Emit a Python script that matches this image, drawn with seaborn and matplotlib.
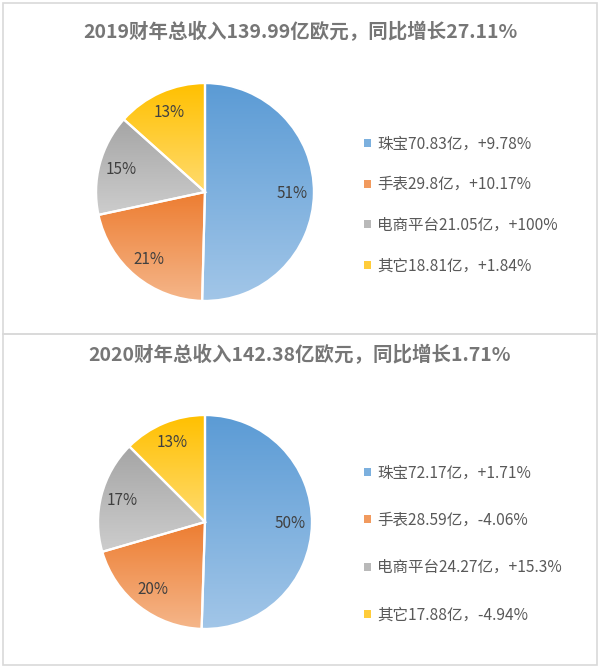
import numpy as np
import matplotlib
matplotlib.use('Agg')
import matplotlib.pyplot as plt
import seaborn as sns
from matplotlib.patches import Rectangle
from matplotlib.colors import LinearSegmentedColormap

# ---- data ----
categories = ['珠宝', '手表', '电商平台', '其它']
rev_2019 = [70.83, 29.8, 21.05, 18.81]
growth_2019 = ['+9.78%', '+10.17%', '+100%', '+1.84%']
pct_2019 = ['51%', '21%', '15%', '13%']
rev_2020 = [72.17, 28.59, 24.27, 17.88]
growth_2020 = ['+1.71%', '-4.06%', '+15.3%', '-4.94%']
pct_2020 = ['50%', '20%', '17%', '13%']
titles = ['2019财年总收入139.99亿欧元，同比增长27.11%',
          '2020财年总收入142.38亿欧元，同比增长1.71%']

dark_cols = ['#5b9bd5', '#ed7d31', '#a5a5a5', '#ffc000']
light_cols = ['#a2c6e8', '#f5b68a', '#cdcdcd', '#ffdb6e']
mid_cols = ['#7cb0de', '#f19a5e', '#b9b9b9', '#ffcc3a']

sns.set_theme(style='white')
plt.rcParams['font.family'] = ['Noto Sans CJK SC', 'DejaVu Sans']
plt.rcParams['hatch.linewidth'] = 1.3

W, H = 600, 668
fig = plt.figure(figsize=(W / 100, H / 100), dpi=100)
fig.patch.set_facecolor('white')

bg = fig.add_axes([0, 0, 1, 1])
bg.set_xlim(0, W)
bg.set_ylim(H, 0)
bg.axis('off')


def fx(px):
    return px / W


def fy(py):
    return 1 - py / H


panels = [
    dict(top=3, bot=334, title_y=32, center=(205, 192), r=110,
         box=(335, 123, 596, 283), leg_y=205, spacing=1.53,
         values=rev_2019, growth=growth_2019, pct=pct_2019, title=titles[0]),
    dict(top=334, bot=665, title_y=355, center=(205, 522), r=108,
         box=(335, 452, 596, 635), leg_y=544, spacing=1.96,
         values=rev_2020, growth=growth_2020, pct=pct_2020, title=titles[1]),
]

for p in panels:
    # hatched background
    bg.add_patch(Rectangle((3, p['top']), 594, p['bot'] - p['top'],
                           facecolor='#e9e9e9', edgecolor='white',
                           hatch='\\' * 16, linewidth=0, zorder=0))
    bg.add_patch(Rectangle((3, p['top']), 594, p['bot'] - p['top'],
                           facecolor='none', edgecolor='#d9d9d9',
                           linewidth=1.2, zorder=1))
    x0, y0, x1, y1 = p['box']
    bg.add_patch(Rectangle((x0, y0), x1 - x0, y1 - y0, facecolor='white',
                           alpha=0.72, edgecolor='none', zorder=2))
    bg.text(300, p['title_y'], p['title'], ha='center', va='center',
            fontsize=14, fontweight='bold', color='#767676', zorder=3)

    cx, cy = p['center']
    r = p['r']
    ax = fig.add_axes([fx(cx - r), fy(cy + r), 2 * r / W, 2 * r / H])
    pct_iter = iter(p['pct'])
    wedges, texts, autotexts = ax.pie(
        p['values'], colors=mid_cols, startangle=90, counterclock=False,
        autopct=lambda v: next(pct_iter), pctdistance=0.8,
        wedgeprops=dict(edgecolor='white', linewidth=1.6),
        textprops=dict(color='#404040', fontsize=11))
    for i, w in enumerate(wedges):
        ext = w.get_path().get_extents()
        cmap = LinearSegmentedColormap.from_list('g', [dark_cols[i], light_cols[i]])
        grad = np.linspace(0, 1, 256).reshape(-1, 1)
        im = ax.imshow(grad, cmap=cmap, aspect='auto', origin='upper',
                       extent=(ext.x0, ext.x1, ext.y0, ext.y1),
                       zorder=0.5, interpolation='bilinear')
        im.set_clip_path(w)
        w.set_facecolor('none')
        w.set_zorder(1)
    for t in autotexts:
        t.set_zorder(3)
    ax.set_xlim(-1.01, 1.01)
    ax.set_ylim(-1.01, 1.01)
    ax.set_aspect('equal')
    ax.axis('off')

    handles = [Rectangle((0, 0), 1, 1, facecolor=c, edgecolor='none') for c in mid_cols]
    labels = [f'{c}{v:g}亿，{g}' for c, v, g in zip(categories, p['values'], p['growth'])]
    fig.legend(handles, labels, loc='center left',
               bbox_to_anchor=(fx(364), fy(p['leg_y'])),
               frameon=False, fontsize=11.2, labelcolor='#595959',
               handlelength=0.42, handleheight=0.42, handletextpad=0.42,
               labelspacing=p['spacing'], borderpad=0, borderaxespad=0)

fig.savefig('out.png', dpi=100)
